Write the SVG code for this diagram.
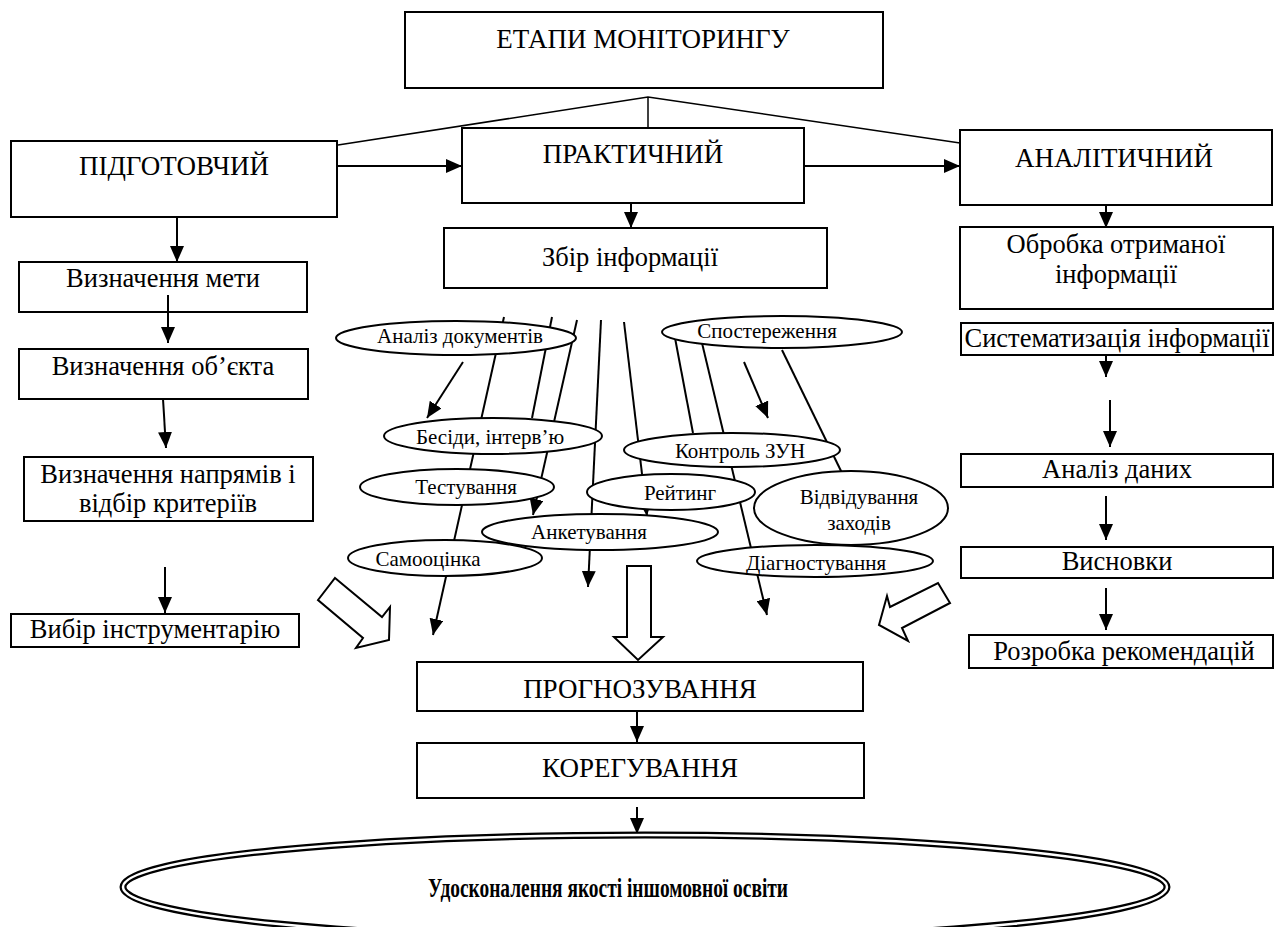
<svg xmlns="http://www.w3.org/2000/svg" width="1275" height="927" viewBox="0 0 1275 927">
<defs>
<marker id="ah" markerUnits="userSpaceOnUse" markerWidth="16" markerHeight="14" refX="16" refY="7" orient="auto">
<path d="M0,0 L16,7 L0,14 z" fill="#000"/>
</marker>
<style>
text{font-family:"Liberation Serif","Times New Roman",serif;fill:#000;text-anchor:middle}
.h{font-size:27px}
.b{font-size:26.5px}
.e{font-size:21px}
.box{fill:#fff;stroke:#000;stroke-width:2}
.ell{fill:#fff;stroke:#000;stroke-width:2}
.c{stroke:#000;stroke-width:2;fill:none}
.ca{stroke:#000;stroke-width:2;fill:none;marker-end:url(#ah)}
.thin{stroke:#000;stroke-width:1.5;fill:none}
.blk{fill:#fff;stroke:#000;stroke-width:2;stroke-linejoin:miter}
</style>
</defs>
<rect width="1275" height="927" fill="#fff"/>

<g id="n-etapy"><rect class="box" x="405" y="12" width="478" height="76"/><text class="h" x="643" y="48">ЕТАПИ МОНІТОРИНГУ</text></g>
<g id="n-pidh"><rect class="box" x="11" y="141" width="326" height="76"/><text class="h" x="174" y="175">ПІДГОТОВЧИЙ</text></g>
<g id="n-prakt"><rect class="box" x="462" y="128" width="342" height="75"/><text class="h" x="633" y="163">ПРАКТИЧНИЙ</text></g>
<g id="n-anal"><rect class="box" x="960" y="130" width="312" height="75"/><text class="h" x="1114" y="167">АНАЛІТИЧНИЙ</text></g>
<g id="n-zbir"><rect class="box" x="444" y="228" width="383" height="60"/><text class="b" x="630" y="266">Збір інформації</text></g>

<g id="n-meta"><rect class="box" x="19" y="262" width="288" height="50"/><text class="b" x="163" y="287">Визначення мети</text></g>
<g id="n-obj"><rect class="box" x="19" y="349" width="289" height="50"/><text class="b" x="163" y="375">Визначення об’єкта</text></g>
<g id="n-napr"><rect class="box" x="24" y="457" width="289" height="64"/><text class="b" x="168" y="483">Визначення напрямів і</text><text class="b" x="168" y="512">відбір критеріїв</text></g>
<g id="n-vybir"><rect class="box" x="11" y="614" width="288" height="33"/><text class="b" x="155" y="638">Вибір інструментарію</text></g>

<g id="n-obrob"><rect class="box" x="960" y="227" width="313" height="82"/><text class="b" x="1116" y="253">Обробка отриманої</text><text class="b" x="1116" y="283">інформації</text></g>
<g id="n-syst"><rect class="box" x="961" y="323" width="312" height="32"/><text class="b" x="1117" y="347">Систематизація інформації</text></g>
<g id="n-anal2"><rect class="box" x="961" y="454" width="312" height="33"/><text class="b" x="1117" y="478">Аналіз даних</text></g>
<g id="n-vysn"><rect class="box" x="961" y="547" width="312" height="31"/><text class="b" x="1117" y="570">Висновки</text></g>
<g id="n-rozr"><rect class="box" x="969" y="635" width="304" height="33"/><text class="b" x="1124" y="660">Розробка рекомендацій</text></g>

<g id="n-progn"><rect class="box" x="417" y="662" width="446" height="49"/><text class="h" x="640" y="698">ПРОГНОЗУВАННЯ</text></g>
<g id="n-koreg"><rect class="box" x="417" y="743" width="447" height="55"/><text class="h" x="640" y="777">КОРЕГУВАННЯ</text></g>

<g id="connectors">
<polyline class="thin" points="338,145 648,97 960,143"/>
<line class="thin" x1="648" y1="97" x2="648" y2="128"/>
<line class="ca" x1="337" y1="166" x2="462" y2="166"/>
<line class="ca" x1="804" y1="166" x2="960" y2="166"/>
<line class="ca" x1="631" y1="203" x2="631" y2="228"/>
<line class="ca" x1="1106" y1="205" x2="1106" y2="228"/>
<line class="ca" x1="177" y1="217" x2="177" y2="262"/>
<line class="ca" x1="168" y1="295" x2="168" y2="343"/>
<line class="ca" x1="163" y1="399" x2="166" y2="448"/>
<line class="ca" x1="165" y1="567" x2="165" y2="613"/>
<line class="ca" x1="1106" y1="355" x2="1106" y2="377"/>
<line class="ca" x1="1110" y1="400" x2="1110" y2="447"/>
<line class="ca" x1="1106" y1="496" x2="1106" y2="540"/>
<line class="ca" x1="1106" y1="588" x2="1106" y2="630"/>
<line class="ca" x1="637" y1="711" x2="637" y2="742"/>
<line class="ca" x1="637" y1="807" x2="637" y2="834"/>
<line class="ca" x1="504" y1="317" x2="433" y2="635"/>
<line class="c" x1="552" y1="317" x2="532" y2="418"/>
<line class="ca" x1="577" y1="320" x2="533" y2="515"/>
<line class="ca" x1="601" y1="320" x2="588" y2="587"/>
<line class="ca" x1="624" y1="322" x2="647" y2="516"/>
<line class="c" x1="675" y1="338" x2="693" y2="433"/>
<line class="ca" x1="702" y1="343" x2="767" y2="615"/>
<line class="c" x1="782" y1="350" x2="842" y2="473"/>
<line class="ca" x1="744" y1="362" x2="768" y2="418"/>
<line class="ca" x1="463" y1="362" x2="427" y2="418"/>
<polygon class="blk" points="335,578 382,617 390,607 389,640 356,648 363,638 318,600"/>
<polygon class="blk" points="627,566 651,566 651,637 663,637 638,660 614,637 627,637"/>
<polygon class="blk" points="938,583 950,603 902,628 908,641 879,625 887,596 890,607"/>
</g>

<g id="n-analiz-dok"><ellipse class="ell" cx="456" cy="338" rx="120" ry="17"/><text class="e" x="460" y="343">Аналіз документів</text></g>
<g id="n-sposter"><ellipse class="ell" cx="782" cy="332" rx="120" ry="16"/><text class="e" x="767" y="338">Спостереження</text></g>
<g id="n-besidy"><ellipse class="ell" cx="493" cy="436" rx="109" ry="18"/><text class="e" x="490" y="444">Бесіди, інтерв’ю</text></g>
<g id="n-kontrol"><ellipse class="ell" cx="732" cy="450" rx="108" ry="17"/><text class="e" x="740" y="458">Контроль ЗУН</text></g>
<g id="n-test"><ellipse class="ell" cx="457" cy="487" rx="97" ry="18"/><text class="e" x="466" y="494">Тестування</text></g>
<g id="n-reit"><ellipse class="ell" cx="671" cy="492" rx="84" ry="18"/><text class="e" x="680" y="500">Рейтинг</text></g>
<g id="n-vidv"><ellipse class="ell" cx="851" cy="508" rx="97" ry="37"/><text class="e" x="859" y="504">Відвідування</text><text class="e" x="859" y="530">заходів</text></g>
<g id="n-anket"><ellipse class="ell" cx="600" cy="532" rx="118" ry="18"/><text class="e" x="589" y="539">Анкетування</text></g>
<g id="n-samo"><ellipse class="ell" cx="445" cy="558" rx="97" ry="18"/><text class="e" x="428" y="566">Самооцінка</text></g>
<g id="n-diag"><ellipse class="ell" cx="815" cy="561" rx="118" ry="16"/><text class="e" x="816" y="570">Діагностування</text></g>

<g id="n-result"><ellipse cx="645" cy="887" rx="522" ry="52" fill="#fff" stroke="#000" stroke-width="7"/><ellipse cx="645" cy="887" rx="522" ry="52" fill="none" stroke="#fff" stroke-width="2.5"/><text x="428" y="897" textLength="360" lengthAdjust="spacingAndGlyphs" style="font-size:27px;font-weight:bold;text-anchor:start">Удосконалення якості іншомовної освіти</text></g>
</svg>
